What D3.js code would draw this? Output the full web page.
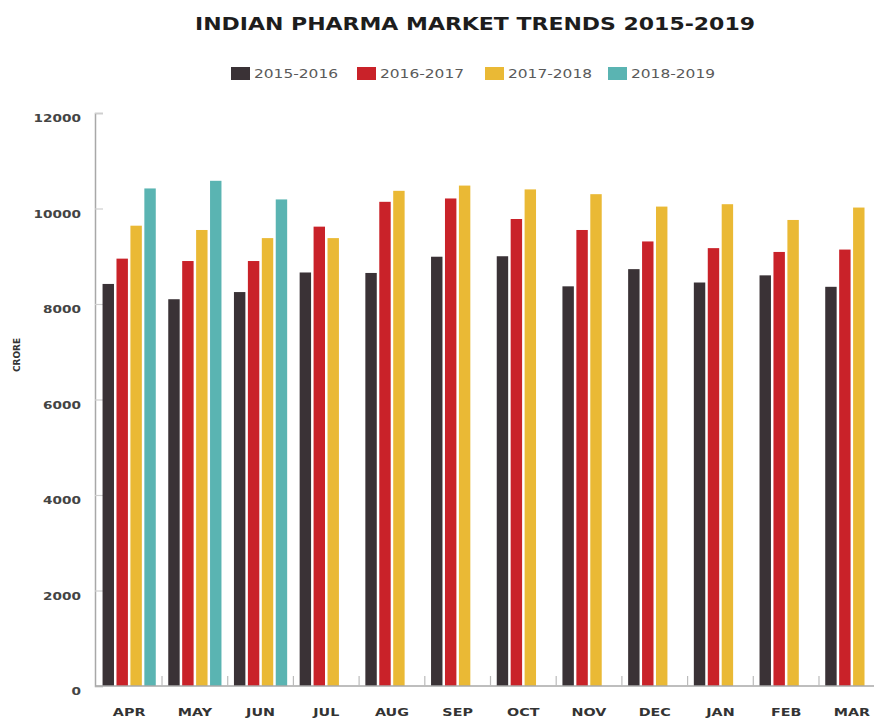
<!DOCTYPE html>
<html>
<head>
<meta charset="utf-8">
<script src="https://cdn.jsdelivr.net/npm/d3@7"></script>
<style>
  html, body { margin: 0; padding: 0; background: #ffffff; }
  svg { display: block; }
</style>
</head>
<body>
<svg id="chart" width="874" height="718"></svg>
<script>
// Monthly market size (crore) per financial year
const months = ["APR", "MAY", "JUN", "JUL", "AUG", "SEP", "OCT", "NOV", "DEC", "JAN", "FEB", "MAR"];
const seriesNames = ["2015-2016", "2016-2017", "2017-2018", "2018-2019"];
const fy2015 = [8420, 8100, 8250, 8660, 8650, 8990, 9000, 8370, 8730, 8450, 8600, 8360];
const fy2016 = [8950, 8900, 8900, 9620, 10140, 10210, 9780, 9550, 9310, 9170, 9090, 9140];
const fy2017 = [9640, 9550, 9380, 9380, 10370, 10480, 10400, 10300, 10040, 10090, 9760, 10020];
const fy2018 = [10420, 10580, 10190, null, null, null, null, null, null, null, null, null];
const seriesColors = ["#3a3236", "#c92229", "#eab935", "#5ab4b2"];
const yTicks = [0, 2000, 4000, 6000, 8000, 10000, 12000];

const seriesValues = [fy2015, fy2016, fy2017, fy2018];
const table = months.map((m, i) => ({
  month: m,
  values: seriesNames.map((s, k) => ({ series: s, value: seriesValues[k][i] }))
}));

const svg = d3.select("#chart");
const axisX = 95, baseY = 686, topY = 113;

const y = d3.scaleLinear().domain([0, 12000]).range([baseY, topY]);
const x0 = d3.scaleBand().domain(months).range([axisX, 886]).paddingInner(0.19).paddingOuter(0.115);
const x1 = d3.scaleBand().domain(seriesNames).range([0, x0.bandwidth()]).paddingInner(0.18);
const color = d3.scaleOrdinal().domain(seriesNames).range(seriesColors);

// Stretch a text node horizontally by a factor (wide display lettering)
function widen(sel, factor) {
  sel.each(function () {
    const w = this.getComputedTextLength();
    d3.select(this).attr("textLength", w * factor).attr("lengthAdjust", "spacingAndGlyphs");
  });
}

// Title
svg.append("text")
  .attr("x", 475).attr("y", 30)
  .attr("text-anchor", "middle")
  .attr("font-family", "'DejaVu Sans', sans-serif")
  .attr("font-weight", "bold")
  .attr("font-size", 17)
  .attr("fill", "#1d1d1d")
  .attr("textLength", 560)
  .attr("lengthAdjust", "spacingAndGlyphs")
  .text("INDIAN PHARMA MARKET TRENDS 2015-2019");

// Legend
const legendX = [231, 357, 485, 608];
const legend = svg.append("g");
seriesNames.forEach((s, k) => {
  const g = legend.append("g").attr("transform", `translate(${legendX[k]},67)`);
  g.append("rect").attr("width", 19).attr("height", 13).attr("fill", color(s));
  g.append("text")
    .attr("x", 23).attr("y", 11)
    .attr("font-family", "'DejaVu Sans', sans-serif")
    .attr("font-size", 12)
    .attr("fill", "#5a5a5a")
    .attr("textLength", 84)
    .attr("lengthAdjust", "spacingAndGlyphs")
    .text(s);
});

// Y axis
const yAxis = svg.append("g")
  .attr("transform", `translate(${axisX},0)`)
  .call(d3.axisRight(y).tickValues(yTicks).tickSize(8).tickFormat(""));
yAxis.select(".domain").attr("stroke", "#a8a8a8").attr("stroke-width", 1.5);
yAxis.selectAll(".tick line").attr("stroke", "#cfcfcf").attr("stroke-width", 1.2);

svg.append("g").selectAll("text")
  .data(yTicks)
  .join("text")
  .attr("x", 81)
  .attr("y", d => y(d) + 9)
  .attr("text-anchor", "end")
  .attr("font-family", "'DejaVu Sans', sans-serif")
  .attr("font-weight", "bold")
  .attr("font-size", 10.5)
  .attr("fill", "#444")
  .text(d => d)
  .call(widen, 1.3);

svg.append("text")
  .attr("transform", "translate(20,355) rotate(-90)")
  .attr("text-anchor", "middle")
  .attr("font-family", "'DejaVu Sans Condensed', 'DejaVu Sans', sans-serif")
  .attr("font-weight", "bold")
  .attr("font-size", 9)
  .attr("fill", "#333")
  .attr("textLength", 34)
  .attr("lengthAdjust", "spacingAndGlyphs")
  .text("CRORE");

// Bars
svg.append("g").selectAll("g")
  .data(table)
  .join("g")
  .attr("transform", d => `translate(${x0(d.month)},0)`)
  .selectAll("rect")
  .data(d => d.values.filter(v => v.value != null))
  .join("rect")
  .attr("x", d => x1(d.series))
  .attr("width", x1.bandwidth())
  .attr("y", d => y(d.value))
  .attr("height", d => baseY - y(d.value))
  .attr("fill", d => color(d.series));

// Baseline with separators between month groups
svg.append("line")
  .attr("x1", axisX).attr("x2", 874)
  .attr("y1", baseY).attr("y2", baseY)
  .attr("stroke", "#a8a8a8").attr("stroke-width", 1.5);

const gap = x0.step() * x0.paddingInner();
svg.append("g").selectAll("line")
  .data(months.slice(1))
  .join("line")
  .attr("x1", d => x0(d) - gap / 2)
  .attr("x2", d => x0(d) - gap / 2)
  .attr("y1", baseY).attr("y2", baseY - 10)
  .attr("stroke", "#bbb").attr("stroke-width", 1.2);

// Month labels
svg.append("g").selectAll("text")
  .data(months)
  .join("text")
  .attr("x", d => x0(d) + x0.bandwidth() / 2)
  .attr("y", 716)
  .attr("text-anchor", "middle")
  .attr("font-family", "'DejaVu Sans', sans-serif")
  .attr("font-weight", "bold")
  .attr("font-size", 11)
  .attr("fill", "#333")
  .text(d => d)
  .call(widen, 1.3);
</script>
</body>
</html>
